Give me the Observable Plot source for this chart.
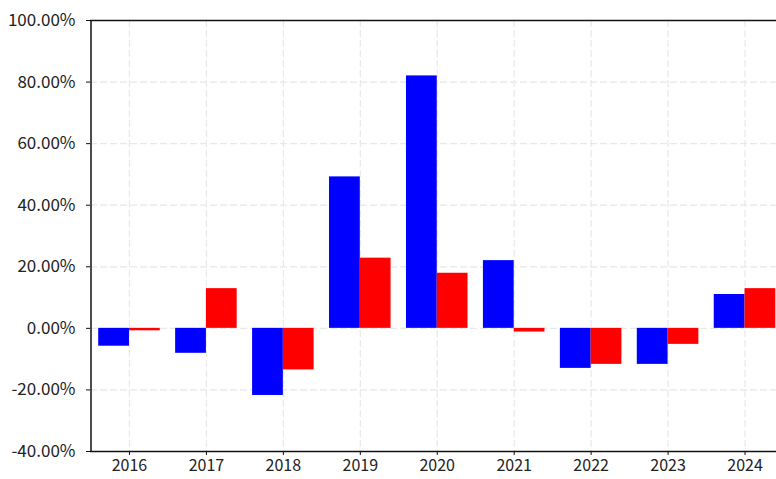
<!DOCTYPE html>
<html>
<head>
<meta charset="utf-8">
<script src="https://cdn.jsdelivr.net/npm/d3@7"></script>
<script src="https://cdn.jsdelivr.net/npm/@observablehq/plot@0.6"></script>
<style>
  html, body { margin: 0; padding: 0; background: #fff; overflow: hidden; }
  #chart { width: 776px; height: 479px; overflow: hidden; }
</style>
</head>
<body>
<div id="chart"></div>
<script>
const years = [2016, 2017, 2018, 2019, 2020, 2021, 2022, 2023, 2024];
const seriesBlue = [-5.8, -8.1, -21.8, 49.2, 82.0, 22.0, -13.0, -11.7, 11.0];
const seriesRed = [-0.8, 12.9, -13.5, 22.8, 17.9, -1.2, -11.7, -5.2, 12.9];
const yTicks = [-40, -20, 0, 20, 40, 60, 80, 100];

const barW = 0.4;
const blueData = years.map((y, i) => ({year: y, value: seriesBlue[i]}));
const redData = years.map((y, i) => ({year: y, value: seriesRed[i]}));

const font = "'Noto Sans CJK SC', 'DejaVu Sans', sans-serif";

const chart = Plot.plot({
  width: 776,
  height: 479,
  marginLeft: 90,
  marginTop: 20,
  marginBottom: 28,
  marginRight: 0,
  style: {fontFamily: font, fontSize: "17px", color: "#000", background: "#fff", overflow: "hidden"},
  x: {type: "linear", domain: [2015.5, 2024.5], range: [90.5, 783]},
  y: {domain: [-40, 100], range: [451, 20]},
  marks: [
    Plot.gridY(yTicks, {stroke: "#e8e8e8", strokeOpacity: 1, strokeDasharray: "7,3", strokeWidth: 1.2}),
    Plot.gridX(years, {stroke: "#e8e8e8", strokeOpacity: 1, strokeDasharray: "7,3", strokeWidth: 1.2}),
    Plot.rect(blueData, {x1: d => d.year - barW, x2: d => d.year, y1: 0, y2: "value", fill: "#0000ff"}),
    Plot.rect(redData, {x1: d => d.year, x2: d => d.year + barW, y1: 0, y2: "value", fill: "#ff0000"}),
    Plot.ruleY([-40, 100], {stroke: "#111", strokeWidth: 1.5}),
    Plot.ruleX([2015.5], {stroke: "#111", strokeWidth: 1.5}),
    Plot.axisY(yTicks, {tickSize: 4, tickPadding: 11, tickFormat: d => d.toFixed(2) + "%", fontSize: 17, stroke: "#111", fill: "#222", label: null}),
    Plot.axisX(years, {tickSize: 4, tickPadding: 4, tickFormat: d => String(d), fontSize: 16, stroke: "#111", fill: "#222", label: null})
  ]
});
document.getElementById("chart").appendChild(chart);
</script>
</body>
</html>
